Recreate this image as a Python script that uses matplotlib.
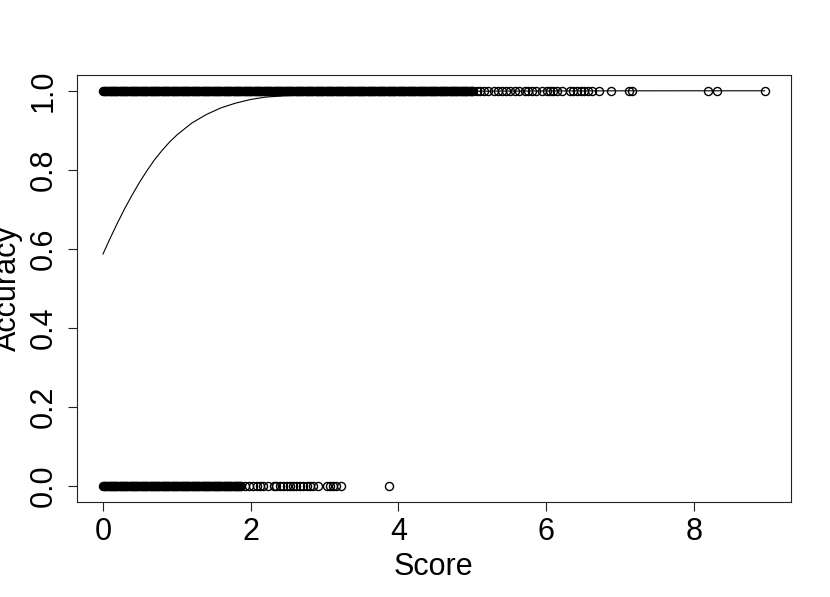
import matplotlib
matplotlib.use("Agg")
import matplotlib.pyplot as plt

plt.rcParams['font.family'] = ['Liberation Sans', 'DejaVu Sans']

# Score values of the correct answers (Accuracy = 1).
# Up to about 5 the points are so dense that they print as a solid band.
score_correct_dense = [
    0.000, 0.015, 0.030, 0.045, 0.060, 0.075, 0.090, 0.105, 0.120, 0.135,
    0.150, 0.165, 0.180, 0.195, 0.210, 0.225, 0.240, 0.255, 0.270, 0.285,
    0.300, 0.315, 0.330, 0.345, 0.360, 0.375, 0.390, 0.405, 0.420, 0.435,
    0.450, 0.465, 0.480, 0.495, 0.510, 0.525, 0.540, 0.555, 0.570, 0.585,
    0.600, 0.615, 0.630, 0.645, 0.660, 0.675, 0.690, 0.705, 0.720, 0.735,
    0.750, 0.765, 0.780, 0.795, 0.810, 0.825, 0.840, 0.855, 0.870, 0.885,
    0.900, 0.915, 0.930, 0.945, 0.960, 0.975, 0.990, 1.005, 1.020, 1.035,
    1.050, 1.065, 1.080, 1.095, 1.110, 1.125, 1.140, 1.155, 1.170, 1.185,
    1.200, 1.215, 1.230, 1.245, 1.260, 1.275, 1.290, 1.305, 1.320, 1.335,
    1.350, 1.365, 1.380, 1.395, 1.410, 1.425, 1.440, 1.455, 1.470, 1.485,
    1.500, 1.515, 1.530, 1.545, 1.560, 1.575, 1.590, 1.605, 1.620, 1.635,
    1.650, 1.665, 1.680, 1.695, 1.710, 1.725, 1.740, 1.755, 1.770, 1.785,
    1.800, 1.815, 1.830, 1.845, 1.860, 1.875, 1.890, 1.905, 1.920, 1.935,
    1.950, 1.965, 1.980, 1.995, 2.010, 2.025, 2.040, 2.055, 2.070, 2.085,
    2.100, 2.115, 2.130, 2.145, 2.160, 2.175, 2.190, 2.205, 2.220, 2.235,
    2.250, 2.265, 2.280, 2.295, 2.310, 2.325, 2.340, 2.355, 2.370, 2.385,
    2.400, 2.415, 2.430, 2.445, 2.460, 2.475, 2.490, 2.505, 2.520, 2.535,
    2.550, 2.565, 2.580, 2.595, 2.610, 2.625, 2.640, 2.655, 2.670, 2.685,
    2.700, 2.715, 2.730, 2.745, 2.760, 2.775, 2.790, 2.805, 2.820, 2.835,
    2.850, 2.865, 2.880, 2.895, 2.910, 2.925, 2.940, 2.955, 2.970, 2.985,
    3.000, 3.015, 3.030, 3.045, 3.060, 3.075, 3.090, 3.105, 3.120, 3.135,
    3.150, 3.165, 3.180, 3.195, 3.210, 3.225, 3.240, 3.255, 3.270, 3.285,
    3.300, 3.315, 3.330, 3.345, 3.360, 3.375, 3.390, 3.405, 3.420, 3.435,
    3.450, 3.465, 3.480, 3.495, 3.510, 3.525, 3.540, 3.555, 3.570, 3.585,
    3.600, 3.615, 3.630, 3.645, 3.660, 3.675, 3.690, 3.705, 3.720, 3.735,
    3.750, 3.765, 3.780, 3.795, 3.810, 3.825, 3.840, 3.855, 3.870, 3.885,
    3.900, 3.915, 3.930, 3.945, 3.960, 3.975, 3.990, 4.005, 4.020, 4.035,
    4.050, 4.065, 4.080, 4.095, 4.110, 4.125, 4.140, 4.155, 4.170, 4.185,
    4.200, 4.215, 4.230, 4.245, 4.260, 4.275, 4.290, 4.305, 4.320, 4.335,
    4.350, 4.365, 4.380, 4.395, 4.410, 4.425, 4.440, 4.455, 4.470, 4.485,
    4.500, 4.515, 4.530, 4.545, 4.560, 4.575, 4.590, 4.605, 4.620, 4.635,
    4.650, 4.665, 4.680, 4.695, 4.710, 4.725, 4.740, 4.755, 4.770, 4.785,
    4.800, 4.815, 4.830, 4.845, 4.860, 4.875, 4.890, 4.905, 4.920, 4.935,
    4.950, 4.965, 4.980, 4.995, 5.010,
]
score_correct_sparse = [
    5.06, 5.10, 5.16, 5.21, 5.30, 5.35, 5.41, 5.46, 5.51, 5.58,
    5.64, 5.71, 5.76, 5.81, 5.87, 5.94, 6.01, 6.05, 6.10, 6.15,
    6.22, 6.32, 6.37, 6.42, 6.47, 6.52, 6.57, 6.62, 6.72, 6.88,
    7.13, 7.17, 8.19, 8.31, 8.96,
]

# Score values of the wrong answers (Accuracy = 0)
score_wrong_dense = [
    0.000, 0.015, 0.030, 0.045, 0.060, 0.075, 0.090, 0.105, 0.120, 0.135,
    0.150, 0.165, 0.180, 0.195, 0.210, 0.225, 0.240, 0.255, 0.270, 0.285,
    0.300, 0.315, 0.330, 0.345, 0.360, 0.375, 0.390, 0.405, 0.420, 0.435,
    0.450, 0.465, 0.480, 0.495, 0.510, 0.525, 0.540, 0.555, 0.570, 0.585,
    0.600, 0.615, 0.630, 0.645, 0.660, 0.675, 0.690, 0.705, 0.720, 0.735,
    0.750, 0.765, 0.780, 0.795, 0.810, 0.825, 0.840, 0.855, 0.870, 0.885,
    0.900, 0.915, 0.930, 0.945, 0.960, 0.975, 0.990, 1.005, 1.020, 1.035,
    1.050, 1.065, 1.080, 1.095, 1.110, 1.125, 1.140, 1.155, 1.170, 1.185,
    1.200, 1.215, 1.230, 1.245, 1.260, 1.275, 1.290, 1.305, 1.320, 1.335,
    1.350, 1.365, 1.380, 1.395, 1.410, 1.425, 1.440, 1.455, 1.470, 1.485,
    1.500, 1.515, 1.530, 1.545, 1.560, 1.575, 1.590, 1.605, 1.620, 1.635,
    1.650, 1.665, 1.680, 1.695, 1.710, 1.725, 1.740, 1.755, 1.770, 1.785,
    1.800, 1.815, 1.830, 1.845, 1.860, 1.875,
]
score_wrong_sparse = [
    1.92, 1.98, 2.03, 2.08, 2.13, 2.17, 2.24, 2.31, 2.35, 2.40,
    2.44, 2.49, 2.53, 2.57, 2.62, 2.67, 2.71, 2.76, 2.80, 2.84,
    2.91, 3.04, 3.08, 3.11, 3.15, 3.23, 3.88,
]

# fitted curve
curve_score = [0.0, 0.1, 0.2, 0.3, 0.4, 0.5, 0.6, 0.7, 0.8, 0.9, 1.0,
               1.2, 1.4, 1.6, 1.8, 2.0, 2.2, 2.5, 2.8, 3.2, 3.6, 4.0,
               5.0, 6.0, 7.0, 8.0, 8.96]
curve_acc = [0.587, 0.628, 0.667, 0.704, 0.738, 0.770, 0.799, 0.826,
             0.849, 0.870, 0.888, 0.918, 0.940, 0.957, 0.969, 0.978,
             0.984, 0.988, 0.991, 0.994, 0.996, 0.9975, 0.999,
             0.9996, 0.9999, 1.0, 1.0]

x_ticks = [0, 2, 4, 6, 8]
y_ticks = [0.0, 0.2, 0.4, 0.6, 0.8, 1.0]

fig = plt.figure(figsize=(8.3, 5.97), dpi=100)
ax = fig.add_axes([0.0922, 0.1595, 0.8608, 0.7149])

marker_style = dict(linestyle='none', marker='o', markersize=5.8,
                    markerfacecolor='none', markeredgecolor='black',
                    markeredgewidth=1.0)
# in the dense runs the overlapping rings merge into a solid black band;
# Agg leaves light specks there, so those rings are filled
dense_style = dict(marker_style, markerfacecolor='black')

ax.plot(score_correct_dense, [1] * len(score_correct_dense), **dense_style)
ax.plot(score_wrong_dense, [0] * len(score_wrong_dense), **dense_style)
ax.plot(score_correct_sparse, [1] * len(score_correct_sparse), **marker_style)
ax.plot(score_wrong_sparse, [0] * len(score_wrong_sparse), **marker_style)
ax.plot(curve_score, curve_acc, color='black', linewidth=0.8)

ax.set_xlim(-0.3584, 9.3184)
ax.set_ylim(-0.04, 1.04)
ax.set_xticks(x_ticks)
ax.set_xticklabels([str(t) for t in x_ticks])
ax.set_yticks(y_ticks)
ax.set_yticklabels([f"{t:.1f}" for t in y_ticks], rotation=90, va='center')

for s in ax.spines.values():
    s.set_linewidth(0.8)
    s.set_color('#222222')
ax.tick_params(axis='both', length=6.8, width=0.8, color='#222222',
               labelsize=22)
ax.tick_params(axis='x', pad=4)
ax.tick_params(axis='y', pad=6)

ax.set_xlabel('Score', fontsize=22, labelpad=4)
fig.text(23 / 830, 1 - 288 / 597, 'Accuracy', fontsize=22, rotation=90,
         ha='right', va='center')

fig.savefig('out.png', dpi=100)
